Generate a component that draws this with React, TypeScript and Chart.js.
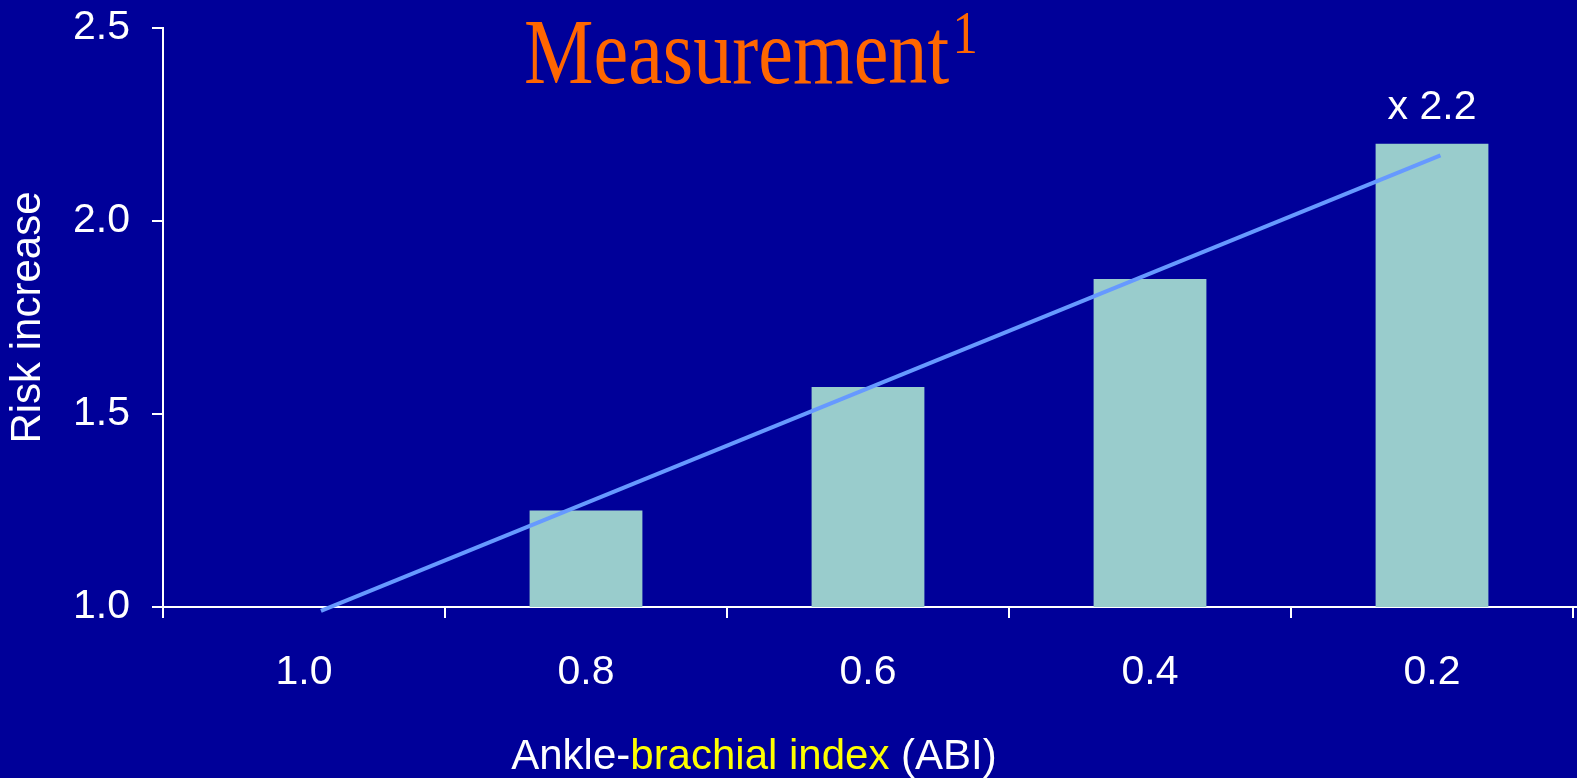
import React, { useEffect, useRef } from "react";
import { Chart, registerables } from "chart.js";

Chart.register(...registerables);

const categories = ["1.0", "0.8", "0.6", "0.4", "0.2"];
const riskValues: (number | null)[] = [null, 1.25, 1.57, 1.85, 2.2];
const barLabels = ["", "", "", "", "x 2.2"];
const trendX = [0.06, 4.03];
const trendY = [0.99, 2.17];
const yMin = 1.0;
const yMax = 2.5;
const yStep = 0.5;
const chartTitle = "Measurement";
const chartTitleSup = "1";
const yTitle = "Risk increase";
const xTitleParts = [
  { text: "Ankle-", color: "#FFFFFF" },
  { text: "brachial index", color: "#FFFF00" },
  { text: " (ABI)", color: "#FFFFFF" },
];

const BG = "#000099";
const SANS = '"Liberation Sans", Arial, sans-serif';
const SERIF = '"Liberation Serif", "Times New Roman", serif';

const zeroPad = (scale: any) => {
  scale.paddingLeft = 0;
  scale.paddingRight = 0;
  scale.paddingTop = 0;
  scale.paddingBottom = 0;
};

const bgPlugin = {
  id: "bgFill",
  beforeDraw(chart: any) {
    const ctx = chart.ctx;
    ctx.save();
    ctx.fillStyle = BG;
    ctx.fillRect(0, 0, chart.width, chart.height);
    ctx.restore();
  },
};

const textPlugin = {
  id: "extraText",
  afterDraw(chart: any) {
    const ctx = chart.ctx;
    const ca = chart.chartArea;
    // x axis line continues to the right edge
    ctx.save();
    ctx.strokeStyle = "#FFFFFF";
    ctx.lineWidth = 2;
    ctx.beginPath();
    ctx.moveTo(ca.right, ca.bottom);
    ctx.lineTo(chart.width, ca.bottom);
    ctx.stroke();
    ctx.restore();

    // Title
    ctx.save();
    ctx.fillStyle = "#FF6600";
    ctx.textBaseline = "alphabetic";
    ctx.textAlign = "left";
    ctx.translate(524, 83);
    ctx.scale(0.831, 1);
    ctx.font = `94px ${SERIF}`;
    ctx.fillText(chartTitle, 0, 0);
    const w = ctx.measureText(chartTitle).width;
    ctx.font = `61px ${SERIF}`;
    ctx.fillText(chartTitleSup, w + 4, -30);
    ctx.restore();

    // X axis title (multi-colour)
    ctx.save();
    ctx.font = `42px ${SANS}`;
    ctx.textBaseline = "alphabetic";
    ctx.textAlign = "left";
    let total = 0;
    for (const p of xTitleParts) total += ctx.measureText(p.text).width;
    let x = 754 - total / 2;
    for (const p of xTitleParts) {
      ctx.fillStyle = p.color;
      ctx.fillText(p.text, x, 769);
      x += ctx.measureText(p.text).width;
    }
    ctx.restore();
  },
  afterDatasetsDraw(chart: any) {
    const ctx = chart.ctx;
    const meta = chart.getDatasetMeta(0);
    ctx.save();
    ctx.font = `41px ${SANS}`;
    ctx.fillStyle = "#FFFFFF";
    ctx.textAlign = "center";
    ctx.textBaseline = "middle";
    meta.data.forEach((el: any, i: number) => {
      const t = barLabels[i];
      if (t && riskValues[i] != null) ctx.fillText(t, el.x, el.y - 36);
    });
    ctx.restore();
  },
};

export default function App() {
  const ref = useRef<HTMLCanvasElement | null>(null);
  useEffect(() => {
    document.body.style.margin = "0";
    document.body.style.background = BG;
    if (!ref.current) return;
    const chart = new Chart(ref.current, {
      type: "bar",
      data: {
        labels: categories,
        datasets: [
          {
            type: "bar",
            data: riskValues as any,
            backgroundColor: "#99CCCC",
            borderWidth: 0,
            barPercentage: 0.4,
            categoryPercentage: 1,
            grouped: false,
            order: 1,
          },
          {
            type: "line",
            xAxisID: "xl",
            data: trendX.map((x, i) => ({ x, y: trendY[i] })) as any,
            borderColor: "#6699FF",
            borderWidth: 4,
            pointRadius: 0,
            fill: false,
            clip: false as any,
            order: 0,
          },
        ],
      },
      options: {
        animation: false,
        responsive: true,
        maintainAspectRatio: false,
        layout: { padding: { top: 28, right: 4, left: 0, bottom: 0 } },
        plugins: {
          legend: { display: false },
          tooltip: { enabled: false },
          title: { display: false },
        },
        scales: {
          x: {
            type: "category",
            offset: true,
            grid: {
              offset: true,
              drawOnChartArea: false,
              tickLength: 11,
              color: "#FFFFFF",
              lineWidth: 2,
            },
            border: { color: "#FFFFFF", width: 2 },
            ticks: {
              color: "#FFFFFF",
              font: { family: SANS, size: 41 },
              padding: 30,
              maxRotation: 0,
            },
            afterFit(scale: any) {
              scale.height = 171;
              zeroPad(scale);
            },
          },
          xl: {
            type: "linear",
            display: false,
            offset: false,
            grid: { offset: false },
            ticks: { display: false },
            min: -0.5,
            max: 4.5,
            afterFit(scale: any) {
              scale.height = 0;
              zeroPad(scale);
            },
          },
          y: {
            type: "linear",
            min: yMin,
            max: yMax,
            grid: {
              drawOnChartArea: false,
              tickLength: 11,
              color: "#FFFFFF",
              lineWidth: 2,
            },
            border: { color: "#FFFFFF", width: 2 },
            ticks: {
              stepSize: yStep,
              color: "#FFFFFF",
              font: { family: SANS, size: 41 },
              padding: 22,
              callback: (v: any) => Number(v).toFixed(1),
            },
            title: {
              display: true,
              text: yTitle,
              color: "#FFFFFF",
              font: { family: SANS, size: 42 },
              padding: { top: 3, bottom: 0 },
            },
            afterFit(scale: any) {
              scale.width = 163;
              zeroPad(scale);
            },
          },
        },
      },
      plugins: [bgPlugin, textPlugin],
    });
    return () => chart.destroy();
  }, []);
  return (
    <div style={{ width: 1577, height: 778, position: "relative" }}>
      <canvas ref={ref} />
    </div>
  );
}
